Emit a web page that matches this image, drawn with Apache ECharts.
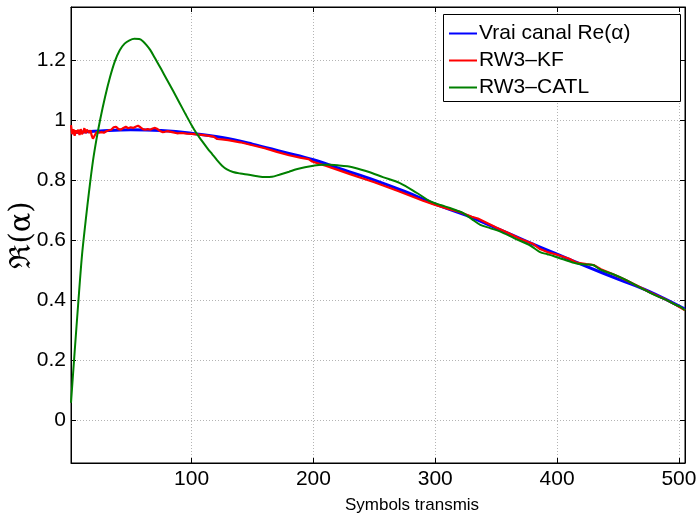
<!DOCTYPE html>
<html>
<head>
<meta charset="utf-8">
<script src="https://cdn.jsdelivr.net/npm/echarts@6/dist/echarts.min.js"></script>
<style>
  html, body { margin: 0; padding: 0; background: #fff; }
  #chart { width: 698px; height: 514px; }
</style>
</head>
<body>
<div id="chart"></div>
<script>
  // vrai canal (courbe lisse)
  const blueX = [1, 25, 50, 75, 100, 125, 150, 175, 200, 225, 250, 275, 300, 325, 350, 375, 400, 425, 450, 475, 505]
  const blueY = [0.960, 0.966, 0.970, 0.967, 0.958, 0.944, 0.922, 0.896, 0.870, 0.836, 0.802, 0.764, 0.722, 0.685, 0.642, 0.598, 0.555, 0.513, 0.472, 0.432, 0.372]

  // RW3-KF
  const redX = [1, 2, 3, 4, 5, 6, 7, 8, 9, 10, 11, 12, 13, 14, 15, 16, 17, 18, 19, 20, 21, 22, 23, 24,
    26, 28, 30, 32, 34, 36, 38, 40, 42, 44, 46, 48, 50, 52, 54, 56, 58, 60, 62, 64, 66, 68, 70, 72, 74, 76, 78, 80,
    84, 88, 92, 96, 100, 110, 118, 121, 125, 130, 140, 150, 160, 170, 180, 190, 196, 199, 205, 210, 220, 230, 240,
    250, 260, 270, 280, 290, 300, 310, 320, 330, 335, 340, 350, 360, 370, 380, 386, 392, 400, 410, 416, 424, 430,
    436, 446, 456, 467, 476, 484, 490, 497, 505]
  const redY = [0.985, 0.955, 0.972, 0.950, 0.968, 0.958, 0.970, 0.952, 0.972, 0.955, 0.962, 0.975, 0.958, 0.970, 0.975, 0.960, 0.968, 0.950, 0.940, 0.935, 0.955, 0.962, 0.958, 0.960,
    0.962, 0.960, 0.965, 0.968, 0.970, 0.978, 0.980, 0.972, 0.970, 0.976, 0.980, 0.975, 0.978, 0.976, 0.980, 0.983, 0.978, 0.972, 0.970, 0.972, 0.970, 0.974, 0.976, 0.972, 0.966, 0.962, 0.963, 0.965,
    0.962, 0.958, 0.959, 0.957, 0.956, 0.952, 0.947, 0.939, 0.938, 0.935, 0.928, 0.918, 0.908, 0.896, 0.885, 0.876, 0.872, 0.864, 0.856, 0.850, 0.836, 0.822, 0.808,
    0.795, 0.780, 0.765, 0.749, 0.733, 0.719, 0.707, 0.696, 0.680, 0.674, 0.664, 0.644, 0.626, 0.606, 0.590, 0.572, 0.562, 0.553, 0.540, 0.527, 0.522, 0.519,
    0.505, 0.488, 0.470, 0.447, 0.428, 0.413, 0.402, 0.387, 0.368]

  // RW3-CATL
  const greenX = [1, 4, 7, 10, 13, 16, 19, 22, 25, 29, 33, 37, 41, 45, 49, 53, 57, 60, 63, 66, 70, 75, 80, 85, 90, 95,
    100, 104, 108, 113, 117, 121, 125, 129, 134, 140, 147, 154, 160, 166, 172, 180, 186, 193, 200, 207, 214, 221,
    228, 232, 245, 257, 271, 285, 296, 305, 312, 318, 323, 330, 337, 345, 353, 365, 378, 386, 392, 397, 405, 416,
    424, 430, 436, 446, 456, 467, 476, 484, 490, 497, 501, 505]
  const greenY = [0.06, 0.23, 0.395, 0.55, 0.665, 0.77, 0.865, 0.94, 1.005, 1.08, 1.145, 1.198, 1.235, 1.257, 1.268, 1.273, 1.272, 1.265, 1.252, 1.236, 1.208, 1.172, 1.135, 1.098, 1.060, 1.022,
    0.985, 0.958, 0.935, 0.908, 0.888, 0.868, 0.850, 0.838, 0.829, 0.824, 0.820, 0.815, 0.812, 0.813, 0.820, 0.830, 0.838, 0.845, 0.850, 0.853, 0.853, 0.851,
    0.848, 0.845, 0.830, 0.812, 0.792, 0.759, 0.731, 0.718, 0.709, 0.700, 0.692, 0.672, 0.653, 0.642, 0.631, 0.608, 0.584, 0.562, 0.555, 0.549, 0.538, 0.524,
    0.521, 0.518, 0.503, 0.488, 0.470, 0.446, 0.427, 0.412, 0.402, 0.387, 0.380, 0.368]

  const seriesNames = ['Vrai canal Re(\u03b1)', 'RW3\u2013KF', 'RW3\u2013CATL']
  const seriesColors = ['#0000ff', '#ff0000', '#008000']

  const zip = (xs, ys) => xs.map((x, i) => [x, ys[i]])

  const fontFamily = '"Liberation Sans", Arial, sans-serif'
  const gridLine = { show: true, lineStyle: { color: '#b4b4b4', type: [1, 2], width: 1 } }
  const tickIn = { show: true, inside: true, length: 5, lineStyle: { color: '#000' } }
  const axisLine = { show: true, onZero: false, lineStyle: { color: '#000', width: 1 } }

  const onlyX = v => (v % 100 === 0 ? String(v) : '')
  const onlyY = v => {
    const k = Math.round(v * 5)
    return Math.abs(v * 5 - k) < 1e-6 ? String(+(k / 5).toFixed(1)) : ''
  }

  const chart = echarts.init(document.getElementById('chart'))
  chart.setOption({
    animation: false,
    backgroundColor: '#fff',
    grid: {
      left: 71, right: 13, top: 7, bottom: 51, show: true, borderColor: '#000', borderWidth: 1,
      containLabel: false, outerBoundsMode: 'none'
    },
    xAxis: [
      {
        type: 'value', min: 1, max: 505, splitNumber: 5,
        axisLine, axisTick: tickIn, splitLine: gridLine,
        axisLabel: { formatter: onlyX, color: '#000', fontSize: 21, fontFamily, margin: 6 },
        name: 'Symbols transmis', nameLocation: 'middle', nameGap: 34, nameMoveOverlap: false,
        nameTextStyle: { color: '#000', fontSize: 17, fontFamily, padding: [0, 0, 0, 68] }
      },
      {
        type: 'value', min: 1, max: 505, splitNumber: 5, position: 'top',
        axisLine, axisTick: tickIn, splitLine: { show: false }, axisLabel: { show: false }
      }
    ],
    yAxis: [
      {
        type: 'value', min: -0.141, max: 1.379, splitNumber: 7,
        axisLine, axisTick: tickIn, splitLine: gridLine,
        axisLabel: { formatter: onlyY, color: '#000', fontSize: 21, fontFamily, margin: 5 },
        name: '\u211c(\u03b1)', nameLocation: 'middle', nameGap: 34, nameRotate: 90, nameMoveOverlap: false,
        nameTextStyle: { color: '#000', fontSize: 29, fontFamily: '"DejaVu Serif", serif' }
      },
      {
        type: 'value', min: -0.141, max: 1.379, splitNumber: 7, position: 'right',
        axisLine, axisTick: tickIn, splitLine: { show: false }, axisLabel: { show: false }
      }
    ],
    legend: {
      orient: 'vertical', left: 449, top: 23, padding: 0, itemGap: 6,
      icon: 'rect', itemWidth: 28, itemHeight: 2, itemStyle: { borderWidth: 0 },
      textStyle: { color: '#000', fontSize: 21, fontFamily, padding: [0, 0, 0, -3] },
      data: seriesNames, z: 10
    },
    graphic: [{
      type: 'rect', left: 443, top: 14, z: 5,
      shape: { width: 237, height: 87 },
      style: { fill: '#fff', stroke: '#000', lineWidth: 1 }
    }],
    series: [
      { name: seriesNames[0], type: 'line', data: zip(blueX, blueY), smooth: 0.4, showSymbol: false,
        color: seriesColors[0], lineStyle: { width: 3 } },
      { name: seriesNames[1], type: 'line', data: zip(redX, redY), showSymbol: false,
        color: seriesColors[1], lineStyle: { width: 2.2 } },
      { name: seriesNames[2], type: 'line', data: zip(greenX, greenY), smooth: 0.3, showSymbol: false,
        color: seriesColors[2], lineStyle: { width: 2 } }
    ]
  })
</script>
</body>
</html>
